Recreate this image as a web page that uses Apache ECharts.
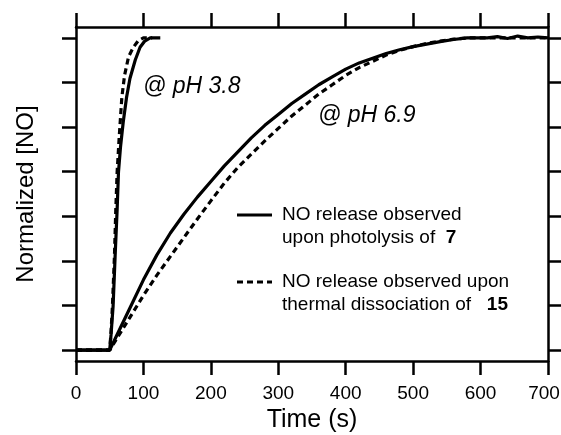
<!DOCTYPE html>
<html>
<head>
<meta charset="utf-8">
<script src="https://cdn.jsdelivr.net/npm/echarts@6/dist/echarts.min.js"></script>
<style>
  html, body { margin: 0; padding: 0; background: #fff; }
  #main { width: 561px; height: 435px; }
</style>
</head>
<body>
<div id="main"></div>
<script>
// pH 3.8 curves
var tPhoto38 = [0, 50, 52, 55, 58, 61, 63, 66, 70, 75, 80, 88, 95, 102, 110, 118, 125];
var yPhoto38 = [0, 0, 0.05, 0.14, 0.3, 0.45, 0.57, 0.65, 0.73, 0.81, 0.87, 0.93, 0.97, 0.99, 1.0, 1.0, 1.0];
var tThermal38 = [0, 50, 52, 54, 57, 59, 61, 64, 68, 72, 78, 85, 92, 100, 108, 113];
var yThermal38 = [0, 0, 0.06, 0.14, 0.3, 0.45, 0.57, 0.68, 0.81, 0.88, 0.94, 0.97, 0.99, 1.0, 1.0, 1.0];

// pH 6.9 curves
var tPhoto69 = [0, 50, 60, 80, 100, 120, 140, 160, 180, 200, 220, 240, 260, 280, 300, 320, 340, 360, 380, 400, 420, 440, 460, 480, 500, 520, 540, 560, 580, 610, 625, 640, 655, 670, 685, 700];
var yPhoto69 = [0, 0, 0.045, 0.135, 0.225, 0.305, 0.375, 0.435, 0.49, 0.54, 0.59, 0.635, 0.68, 0.72, 0.755, 0.79, 0.82, 0.85, 0.875, 0.9, 0.92, 0.935, 0.95, 0.962, 0.972, 0.98, 0.988, 0.995, 1.0, 1.0, 1.004, 0.998, 1.006, 1.0, 1.003, 1.0];
var tThermal69 = [0, 50, 60, 80, 100, 120, 140, 160, 180, 200, 220, 240, 260, 280, 300, 320, 340, 360, 380, 400, 420, 440, 460, 480, 500, 520, 540, 560, 580, 640, 700];
var yThermal69 = [0, 0, 0.035, 0.105, 0.175, 0.24, 0.3, 0.36, 0.42, 0.478, 0.535, 0.585, 0.628, 0.67, 0.71, 0.75, 0.785, 0.82, 0.85, 0.88, 0.905, 0.925, 0.945, 0.96, 0.972, 0.982, 0.99, 0.996, 1.0, 1.0, 1.0];

var yTicks = [0, 1/7, 2/7, 3/7, 4/7, 5/7, 6/7, 1];

function pairs(t, y) {
    return t.map(function (v, i) { return [v, y[i]]; });
}

var font = 'Liberation Sans, Arial, sans-serif';
var axisLine = { show: true, onZero: false, lineStyle: { color: '#000', width: 2.5 } };
var tickStyle = { color: '#000', width: 2.5 };

var myChart = echarts.init(document.getElementById('main'));

function curve(data, dashed) {
    return {
        type: 'line',
        data: data,
        showSymbol: false,
        smooth: false,
        lineStyle: { color: '#000', width: 3.2, type: dashed ? [6, 4] : 'solid' },
        z: dashed ? 2 : 3
    };
}

myChart.setOption({
    animation: false,
    grid: { left: 76, right: 13, top: 27, bottom: 74, containLabel: false, outerBoundsMode: 'none' },
    xAxis: [
        {
            type: 'value', min: 0, max: 700, interval: 100, position: 'bottom',
            name: 'Time (s)', nameLocation: 'middle', nameGap: 46,
            nameTextStyle: { fontSize: 25, color: '#000', fontFamily: font },
            axisLine: axisLine,
            axisTick: { show: true, inside: false, length: 14, lineStyle: tickStyle },
            axisLabel: {
                fontSize: 19, color: '#000', fontFamily: font, margin: 23,
                // last label sits at the edge, nudge it left a little
                formatter: function (v) { return v === 700 ? '{r|700}' : String(v); },
                rich: { r: { fontSize: 19, fontFamily: font, color: '#000', padding: [0, 8, 0, 0] } }
            },
            splitLine: { show: false }
        },
        {
            type: 'value', min: 0, max: 700, interval: 100, position: 'top',
            axisLine: axisLine,
            axisTick: { show: true, inside: false, length: 14, lineStyle: tickStyle },
            axisLabel: { show: false },
            splitLine: { show: false }
        }
    ],
    yAxis: [
        {
            type: 'value', min: -0.035, max: 1.035, position: 'left',
            name: 'Normalized [NO]', nameLocation: 'middle', nameGap: 38,
            nameTextStyle: { fontSize: 24, color: '#000', fontFamily: font },
            axisLine: axisLine,
            axisTick: { show: true, inside: false, length: 14, customValues: yTicks, lineStyle: tickStyle },
            axisLabel: { show: false },
            splitLine: { show: false }
        },
        {
            type: 'value', min: -0.035, max: 1.035, position: 'right',
            axisLine: axisLine,
            axisTick: { show: true, inside: false, length: 14, customValues: yTicks, lineStyle: tickStyle },
            axisLabel: { show: false },
            splitLine: { show: false }
        }
    ],
    series: [
        curve(pairs(tThermal38, yThermal38), true),
        curve(pairs(tPhoto38, yPhoto38), false),
        curve(pairs(tThermal69, yThermal69), true),
        curve(pairs(tPhoto69, yPhoto69), false)
    ],
    graphic: [
        { type: 'text', left: 143, top: 75, style: { text: '@ pH 3.8', font: 'italic 23px ' + font, fill: '#000' } },
        { type: 'text', left: 318, top: 104, style: { text: '@ pH 6.9', font: 'italic 23px ' + font, fill: '#000' } },
        { type: 'line', shape: { x1: 237, y1: 215, x2: 272, y2: 215 }, style: { stroke: '#000', lineWidth: 3 } },
        {
            type: 'text', left: 282, top: 203,
            style: {
                text: 'NO release observed\nupon photolysis of  {b|7}',
                font: '19px ' + font, fill: '#000', lineHeight: 23,
                rich: { b: { fontWeight: 'bold', fontSize: 19, fontFamily: font } }
            }
        },
        { type: 'line', shape: { x1: 237, y1: 282, x2: 272, y2: 282 }, style: { stroke: '#000', lineWidth: 3, lineDash: [6, 4] } },
        {
            type: 'text', left: 282, top: 270,
            style: {
                text: 'NO release observed upon\nthermal dissociation of   {b|15}',
                font: '19px ' + font, fill: '#000', lineHeight: 23,
                rich: { b: { fontWeight: 'bold', fontSize: 19, fontFamily: font } }
            }
        }
    ]
});
</script>
</body>
</html>
